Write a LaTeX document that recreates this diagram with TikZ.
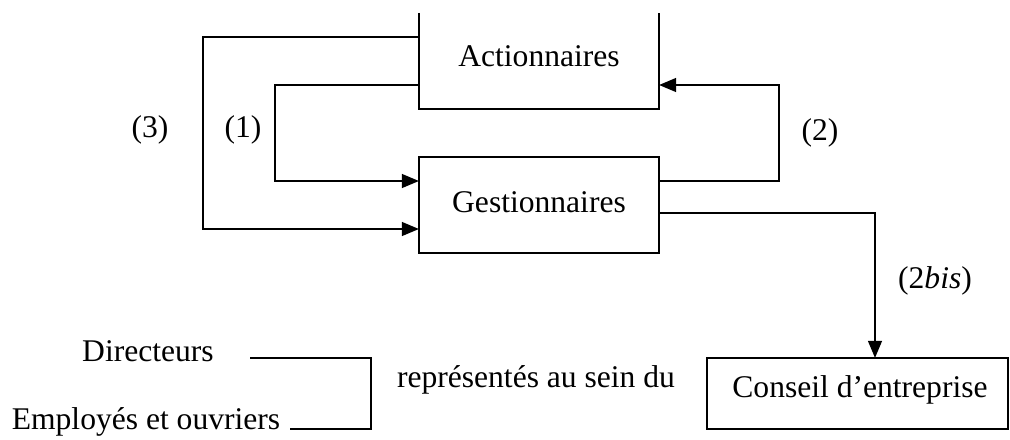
\documentclass[tikz,border=0pt]{standalone}
\usepackage{fontspec}
\setmainfont{Liberation Serif}
\usetikzlibrary{arrows.meta}

\begin{document}
\begin{tikzpicture}[x=0.38pt, y=-0.38pt, line width=0.85pt,
  every node/.style={font=\fontsize{12}{14}\selectfont},
  box/.style={inner sep=0pt, outer sep=0pt, minimum width=91.2pt, minimum height=36.5pt},
  arr/.style={-{Triangle[length=6.5pt, width=5.2pt]}}]

\useasboundingbox (0,0) rectangle (1010,439);

% Actionnaires, open at the top
\node[box] (act) at (539,61) {};
\draw (act.north west) -- (act.south west) -- (act.south east) -- (act.north east);
\node[anchor=base] (actT) at (539,66) {Actionnaires};

% Gestionnaires
\node[box, draw] (ges) at (539,205) {};
\node[anchor=base] (gesT) at (539,212) {Gestionnaires};

% Conseil d'entreprise
\node[box, draw, minimum width=114.4pt, minimum height=27pt] (cons) at (857.5,393.5) {};
\node[anchor=base] (consT) at (860,397) {Conseil d’entreprise};

% Relations (1), (2), (3) and (2bis)
\draw[arr] (act.west |- 0,85) -- (275,85) |- (ges.west |- 0,181);
\draw[arr] (act.west |- 0,37) -- (203,37) |- (ges.west |- 0,229);
\draw[arr] (ges.east |- 0,181) -- (779,181) |- (act.east |- 0,85);
\draw[arr] (ges.east |- 0,213) -| (cons.north -| 875,0);

\node[anchor=base] (lbl3) at (150,137) {(3)};
\node[anchor=base] (lbl1) at (243,137) {(1)};
\node[anchor=base] (lbl2) at (820,140) {(2)};
\node[anchor=base] (lbl2b) at (935,288) {(2\textit{bis})};

% Directeurs and employees
\node[anchor=base] (dir) at (148,361) {Directeurs};
\node[anchor=base] (emp) at (146,429) {Employés et ouvriers};
\node[anchor=base] (rep) at (536,387) {représentés au sein du};

\coordinate (dirE) at (250,358);
\coordinate (empE) at (290,429);
\draw (dirE) -- (371,358) |- (empE);

\end{tikzpicture}
\end{document}
